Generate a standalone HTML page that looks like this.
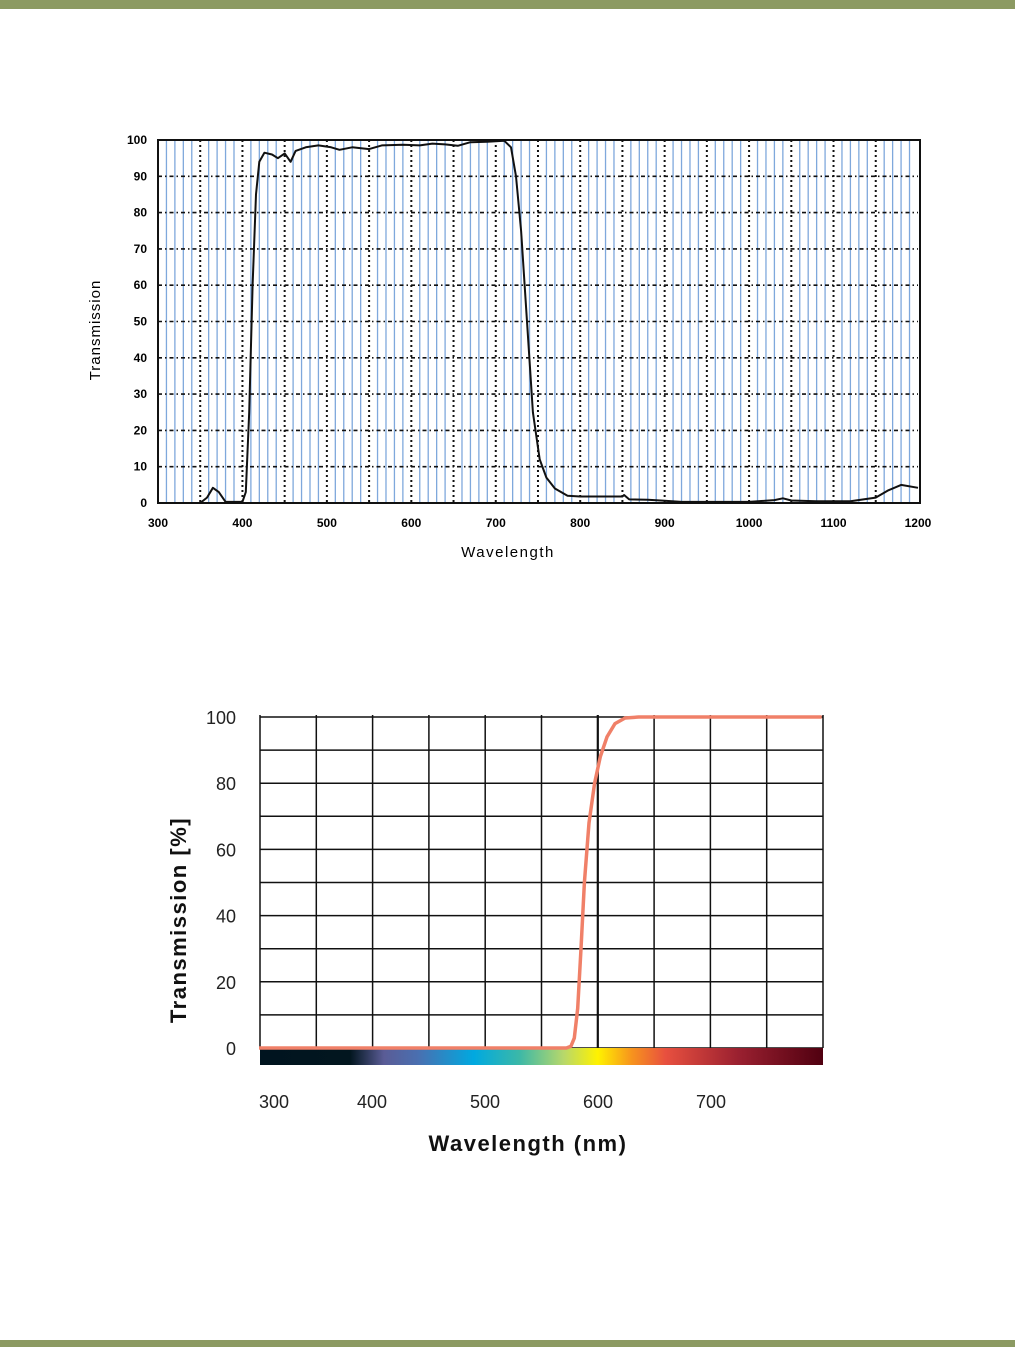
<!DOCTYPE html>
<html><head><meta charset="utf-8"><style>
html,body{margin:0;padding:0;background:#fff;}
svg{display:block;}
text{font-family:"Liberation Sans",Arial,sans-serif;}
</style></head><body>
<svg id="s" width="1015" height="1347" viewBox="0 0 1015 1347" xmlns="http://www.w3.org/2000/svg">
<defs>
<linearGradient id="spec" x1="0" x2="1" y1="0" y2="0">
<stop offset="0" stop-color="#00141f"/>
<stop offset="0.16" stop-color="#02161f"/>
<stop offset="0.22" stop-color="#5a5c96"/>
<stop offset="0.28" stop-color="#4a6fb0"/>
<stop offset="0.38" stop-color="#00a9e0"/>
<stop offset="0.46" stop-color="#3bb8a8"/>
<stop offset="0.54" stop-color="#b8d86a"/>
<stop offset="0.6" stop-color="#fff200"/>
<stop offset="0.66" stop-color="#f7941d"/>
<stop offset="0.72" stop-color="#e8503f"/>
<stop offset="0.85" stop-color="#9a2030"/>
<stop offset="1" stop-color="#500010"/>
</linearGradient>
</defs>
<rect x="0" y="0" width="1015" height="9" fill="#8c9a62"/>
<rect x="0" y="1340" width="1015" height="7" fill="#8c9a62"/>
<g id="top"></g>
<g id="bot"></g>
</svg>
<script>
var NS="http://www.w3.org/2000/svg";
function el(p,t,a,txt){var e=document.createElementNS(NS,t);for(var k in a)e.setAttribute(k,a[k]);if(txt!==undefined)e.textContent=txt;p.appendChild(e);return e;}
var T=document.getElementById("top"),B=document.getElementById("bot");
function X(w){return 158+(w-300)*0.8444;}
function Y(t){return 503-t*3.63;}
for(var w=310;w<1200;w+=10){ if(w%50==0) continue; el(T,"line",{x1:X(w),x2:X(w),y1:140,y2:503,stroke:"#7fa8dc","stroke-width":1.3});}
for(var w=350;w<1200;w+=50){ el(T,"line",{x1:X(w),x2:X(w),y1:140,y2:503,stroke:"#111","stroke-width":2,"stroke-dasharray":"2,3"});}
for(var t=10;t<100;t+=10){ el(T,"line",{x1:158,x2:918,y1:Y(t),y2:Y(t),stroke:"#111","stroke-width":1.6,"stroke-dasharray":"4,3,1.5,3"});}
el(T,"rect",{x:158,y:140,width:762,height:363,fill:"none",stroke:"#111","stroke-width":2});
for(var t=0;t<=100;t+=10){el(T,"text",{x:147,y:Y(t)+4,"text-anchor":"end","font-size":12,"font-weight":"bold"},t);}
for(var w=300;w<=1200;w+=100){el(T,"text",{x:X(w),y:527,"text-anchor":"middle","font-size":12,"font-weight":"bold"},w);}
el(T,"text",{x:508,y:557,"text-anchor":"middle","font-size":15,"letter-spacing":"1.5"},"Wavelength");
el(T,"text",{x:100,y:330,"text-anchor":"middle","font-size":15,"letter-spacing":"1",transform:"rotate(-90 100 330)"},"Transmission");
var pts=[[350,0],[358,1.5],[365,4.2],[372,3],[380,0.3],[400,0.3],[404,3],[408,25],[412,60],[416,85],[420,94],[426,96.5],[435,96],[442,95],[450,96.3],[457,94],[463,97],[475,98],[490,98.5],[505,98],[515,97.3],[530,98],[550,97.5],[565,98.5],[590,98.7],[610,98.5],[625,99],[640,98.8],[655,98.4],[670,99.4],[690,99.5],[710,99.8],[718,98],[724,90],[730,75],[737,50],[744,25],[752,12],[760,7],[770,4],[785,2],[800,1.8],[850,1.8],[852,2.2],[858,1],[880,0.9],[900,0.6],[920,0.3],[1000,0.3],[1030,0.8],[1040,1.3],[1050,0.7],[1080,0.5],[1120,0.5],[1150,1.5],[1165,3.5],[1180,5],[1200,4.2]];
var d="";pts.forEach(function(p,i){d+=(i?"L":"M")+X(p[0]).toFixed(1)+" "+Y(p[1]).toFixed(1);});
el(T,"path",{d:d,fill:"none",stroke:"#111","stroke-width":2,"stroke-linejoin":"round"});
function X2(w){return 259+(w-300)*1.13;}
function Y2(t){return 1048-t*3.31;}
for(var i=0;i<=10;i++){var x=260+i*56.3; el(B,"line",{x1:x,x2:x,y1:715,y2:1048,stroke:"#111","stroke-width":i==6?2.2:1.5});}
for(var t=0;t<=100;t+=10){el(B,"line",{x1:260,x2:823,y1:Y2(t),y2:Y2(t),stroke:"#111","stroke-width":1.5});}
el(B,"rect",{x:260,y:1048,width:563,height:17,fill:"url(#spec)"});
for(var t=0;t<=100;t+=20){el(B,"text",{x:236,y:Y2(t)+7,"text-anchor":"end","font-size":18,fill:"#222"},t);}
[300,400,500,600,700].forEach(function(w){el(B,"text",{x:X2(w)+(w==300?15:0),y:1108,"text-anchor":"middle","font-size":18,fill:"#222"},w);});
el(B,"text",{x:528,y:1151,"text-anchor":"middle","font-size":22,"font-weight":"bold","letter-spacing":"1.5",fill:"#111"},"Wavelength (nm)");
el(B,"text",{x:186,y:920,"text-anchor":"middle","font-size":22,"font-weight":"bold","letter-spacing":"1.5",fill:"#111",transform:"rotate(-90 186 920)"},"Transmission [%]");
var p2=[[300,0],[572,0],[576,0.5],[579,3],[582,12],[585,30],[588,50],[592,68],[597,80],[602,88],[608,94],[615,98],[624,99.7],[636,100],[798,100]];
d="";p2.forEach(function(p,i){d+=(i?"L":"M")+X2(p[0]).toFixed(1)+" "+Y2(p[1]).toFixed(1);});
el(B,"path",{d:d,fill:"none",stroke:"#f08068","stroke-width":3.5,"stroke-linejoin":"round"});
</script>
</body></html>
